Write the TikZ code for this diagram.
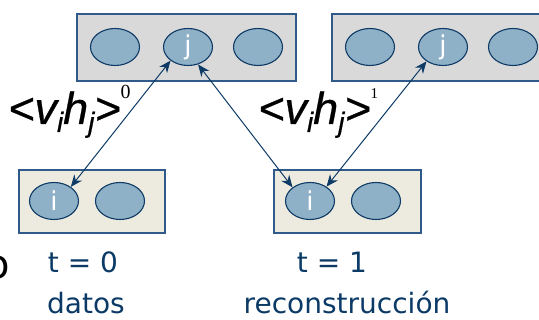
\documentclass[tikz,border=0pt]{standalone}
\usepackage{fontspec}
\setmainfont{DejaVu Sans}
\newfontfamily\labfont[FakeBold=0.6]{Liberation Sans}
\newfontfamily\serfont{Liberation Serif}
\usetikzlibrary{arrows.meta,shapes.geometric}
\definecolor{txtblue}{HTML}{0B3A66}
\definecolor{boxedge}{HTML}{2F5A8A}
\definecolor{topfill}{HTML}{D9D9D9}
\definecolor{botfill}{HTML}{EDEBE0}
\definecolor{unitfill}{HTML}{8FB1C7}
\definecolor{unitedge}{HTML}{0E3A66}
\begin{document}
\begin{tikzpicture}[x=1pt,y=-1pt,
  layerbox/.style={draw=boxedge,line width=1.2pt},
  toplayer/.style={layerbox,fill=topfill},
  botlayer/.style={layerbox,fill=botfill},
  unit/.style={ellipse,draw=unitedge,line width=1.1pt,fill=unitfill,minimum width=49pt,minimum height=37pt,inner sep=0pt,text=white,font=\fontsize{26}{26}\selectfont},
  link/.style={draw=unitedge,line width=1pt,{Stealth[length=12pt,width=10pt]}-{Stealth[length=12pt,width=10pt]}},
  caption/.style={text=txtblue,font=\fontsize{28}{28}\selectfont,inner sep=0pt},
  lab/.style={font=\labfont\itshape\fontsize{45}{45}\selectfont,inner sep=0pt}
]
\useasboundingbox (0,0) rectangle (539,320);
% boxes
\path[toplayer] (77,14) rectangle (296,81);
\path[toplayer] (332,14) rectangle (560,81);
\path[botlayer] (19,170) rectangle (165,233);
\path[botlayer] (274,170) rectangle (421,233);
% units
\node[unit] (a1) at (115,47) {};
\node[unit] (j1) at (188,47) {j};
\node[unit] (a3) at (258,47) {};
\node[unit] (b1) at (370,47) {};
\node[unit] (j2) at (443,47) {j};
\node[unit] (b3) at (513,47) {};
\node[unit] (i1) at (54,201) {i};
\node[unit] (c2) at (120,201) {};
\node[unit] (i2) at (310,201) {i};
\node[unit] (d2) at (376,201) {};
% connectors
\draw[link] (i1.40) -- (j1.218);
\draw[link] (j1.300) -- (i2.142);
\draw[link] (i2.41) -- (j2.221);
% labels
\node[lab,anchor=base west] (l0) at (8,124) {<v\lower8pt\hbox{\fontsize{28}{28}\selectfont i}h\lower8pt\hbox{\fontsize{28}{28}\selectfont j}>\raise25pt\hbox{\serfont\upshape\fontsize{20}{20}\selectfont 0}};
\node[lab,anchor=base west] (l1) at (258,124) {<v\lower8pt\hbox{\fontsize{28}{28}\selectfont i}h\lower8pt\hbox{\fontsize{28}{28}\selectfont j}>\raise25pt\hbox{\serfont\upshape\fontsize{15}{15}\selectfont 1}};
% captions
\node[caption] (t0) at (83,262) {t = 0};
\node[caption] (d0) at (86,303) {datos};
\node[caption] (t1) at (332,262) {t = 1};
\node[caption] (r1) at (347,303) {reconstrucción};
\node[font=\fontsize{40}{40}\selectfont,anchor=east,inner sep=0pt] (o) at (10,268) {o};
\end{tikzpicture}
\end{document}
